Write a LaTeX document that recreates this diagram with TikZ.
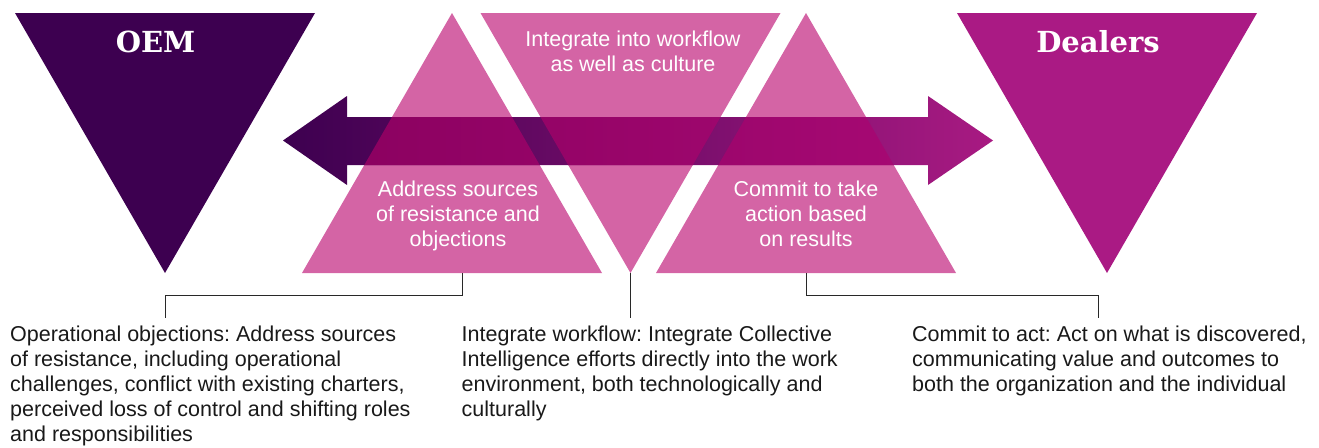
\documentclass[tikz,border=0pt]{standalone}
\usepackage{fontspec}
\setmainfont{Liberation Sans}
\newfontfamily\slab{DejaVu Serif}
\frenchspacing
\definecolor{oem}{RGB}{61,0,80}
\definecolor{dealer}{RGB}{170,26,132}
\definecolor{pinktri}{RGB}{212,100,165}
\definecolor{arrL}{RGB}{61,0,80}
\definecolor{arrM}{RGB}{106,18,112}
\definecolor{arrR}{RGB}{168,26,130}
\definecolor{ovL}{RGB}{136,0,94}
\definecolor{ovR}{RGB}{170,10,118}
\definecolor{textgray}{RGB}{25,25,25}
\definecolor{linegray}{RGB}{40,40,40}
\begin{document}
\begin{tikzpicture}[x=1pt,y=-1pt,
  body/.style={font=\fontsize{21.5}{25}\selectfont, align=left, anchor=north west, inner sep=0pt, text=textgray},
  tritext/.style={font=\fontsize{21.5}{25}\selectfont, align=center, anchor=north, inner sep=0pt, text=white},
  head/.style={font=\slab\bfseries\fontsize{29}{30}\selectfont, anchor=base, inner sep=0pt, text=white},
  conn/.style={draw=linegray, line width=1pt},
  arrowshape/.style={insert path={(283,140.5) -- (347,96) -- (347,117) -- (928,117) -- (928,96) -- (993,140.5) -- (928,185) -- (928,165) -- (347,165) -- (347,185) -- cycle}},
  pinkset/.style={insert path={(302,273) -- (602,273) -- (452,13) -- cycle (480.5,13) -- (780.5,13) -- (630.5,273) -- cycle (656,273) -- (956,273) -- (806,13) -- cycle}}]
\useasboundingbox (0,0) rectangle (1319,447);
% big triangles
\fill[oem] (15,13) -- (315,13) -- (165,273) -- cycle;
\fill[dealer] (957,13) -- (1257,13) -- (1107,273) -- cycle;
% pink triangles
\fill[pinktri, pinkset];
% arrow
\shade[arrowshape, left color=arrL, middle color=arrM, right color=arrR];
\begin{scope}
  \clip[pinkset];
  \shade[arrowshape, left color=ovL, right color=ovR];
\end{scope}
% headings
\node[head] (oemlbl) at (155.5,52) {OEM};
\node[head] (deallbl) at (1098,52) {Dealers};
% triangle texts
\node[tritext] (t1) at (458,180.5) {Address sources\\of resistance and\\objections};
\node[tritext] (t2) at (633,30.5) {Integrate into workflow\\as well as culture};
\node[tritext] (t3) at (806,180.5) {Commit to take\\action based\\on results};
% connector anchors
\coordinate (b1) at (462,273);
\coordinate (b2) at (630.5,273);
\coordinate (b3) at (806,273);
\coordinate (e1) at (165,318);
\coordinate (e2) at (630.5,318);
\coordinate (e3) at (1098,318);
\draw[conn] (b1) -- ++(0,22) -| (e1);
\draw[conn] (b2) -- (e2);
\draw[conn] (b3) -- ++(0,22) -| (e3);
% bottom texts
\node[body] (p1) at (10,326) {Operational objections: Address sources\\of resistance, including operational\\challenges, conflict with existing charters,\\perceived loss of control and shifting roles\\and responsibilities};
\node[body] (p2) at (461.5,326) {Integrate workflow: Integrate Collective\\Intelligence efforts directly into the work\\environment, both technologically and\\culturally};
\node[body] (p3) at (912,326) {Commit to act: Act on what is discovered,\\communicating value and outcomes to\\both the organization and the individual};
\end{tikzpicture}
\end{document}
